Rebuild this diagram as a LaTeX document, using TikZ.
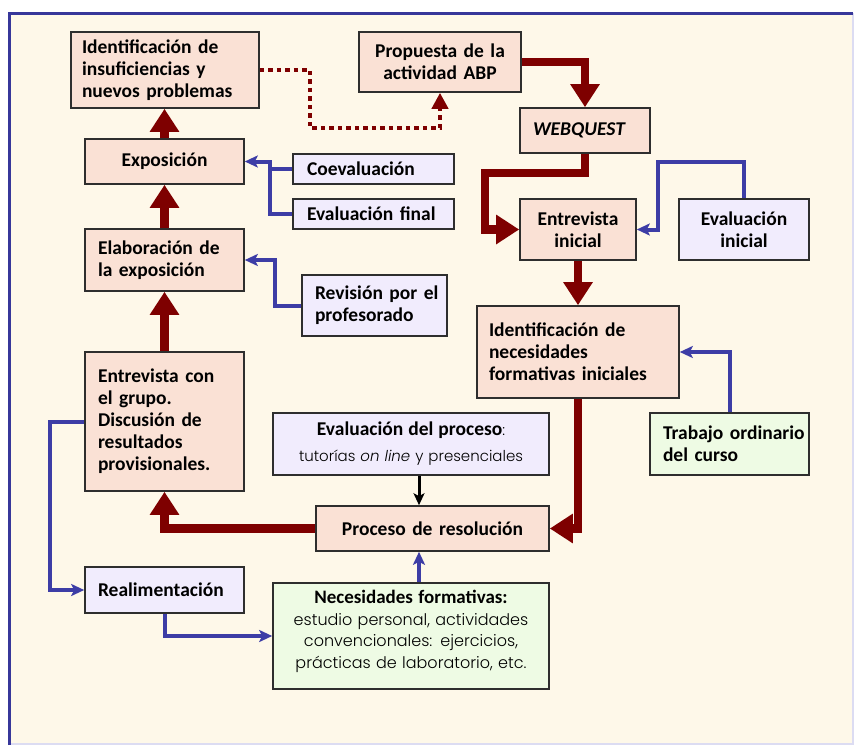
\documentclass[tikz,border=0pt]{standalone}
\usepackage{fontspec}
\setmainfont{Carlito}
\newfontfamily\lightfont{Poppins}[UprightFont=* Light, ItalicFont=* Light Italic]
\usetikzlibrary{arrows.meta}
\definecolor{bgc}{HTML}{FEF8E9}
\definecolor{pinkc}{HTML}{FAE1D5}
\definecolor{lavc}{HTML}{F1ECFD}
\definecolor{greenc}{HTML}{EEFBE4}
\definecolor{darkred}{HTML}{7E0000}
\definecolor{arrblue}{HTML}{3D3DA6}
\definecolor{frameblue}{HTML}{37379A}
\definecolor{framelight}{HTML}{DCDCF2}
\definecolor{boxline}{HTML}{2E2E2E}
\newcommand\mybf{\normalfont\bfseries\fontsize{19.5}{22}\selectfont}
\newcommand\Lb[1]{\mbox{#1}}
\begin{document}
\begin{tikzpicture}[x=1pt,y=-1pt,
  box/.style={draw=boxline, line width=1.6pt, inner sep=0pt, font=\mybf},
  pinkbox/.style={box, fill=pinkc},
  lavbox/.style={box, fill=lavc},
  greenbox/.style={box, fill=greenc},
  redarrow/.style={draw=darkred, line width=8.5pt, -{Triangle[length=23pt,width=28pt]}},
  dotarrow/.style={draw=darkred, line width=4.5pt, dash pattern=on 4.5pt off 4pt, -{Triangle[length=16pt,width=16pt]}},
  bluearrow/.style={draw=arrblue, line width=4pt, -{Stealth[length=13pt,width=12pt,inset=3pt]}},
  blueline/.style={draw=arrblue, line width=4pt},
  blackarrow/.style={draw=black, line width=3pt, -{Stealth[length=12pt,width=11pt,inset=3pt]}}
]
\useasboundingbox (0,0) rectangle (854,747);
\fill[white] (0,0) rectangle (854,747);
\fill[bgc] (9,13) rectangle (853,745);
\draw[framelight, line width=2pt] (9,744) -- (853,744) -- (853,13);
\draw[frameblue, line width=3pt] (9,745) -- (9,13) -- (853,13);

% nodes
\node[pinkbox, minimum width=188pt, minimum height=76pt, text width=166pt, align=left] (insuf) at (165,70) {\Lb{Identificación de}\\\Lb{insuficiencias y}\\\Lb{nuevos problemas}};
\node[pinkbox, minimum width=162pt, minimum height=60pt, text width=150pt, align=center] (prop) at (440,62) {Propuesta de la\\actividad ABP};
\node[pinkbox, minimum width=159pt, minimum height=45pt, text width=150pt, align=center] (expo) at (164.5,161.5) {Exposición};
\node[lavbox, minimum width=161pt, minimum height=30pt, text width=133pt, align=left] (coev) at (373.5,169) {Coevaluación};
\node[lavbox, minimum width=161pt, minimum height=30pt, text width=133pt, align=left] (evfin) at (373.5,214) {\Lb{Evaluación final}};
\node[pinkbox, minimum width=159pt, minimum height=62pt, text width=133pt, align=left] (elab) at (164.5,260) {\Lb{Elaboración de}\\\Lb{la exposición}};
\node[lavbox, minimum width=145pt, minimum height=61pt, text width=119pt, align=left] (revis) at (374.5,305.5) {\Lb{Revisión por el}\\profesorado};
\node[pinkbox, minimum width=130pt, minimum height=45pt, text width=104pt, align=left] (webq) at (585,130.5) {\itshape WEBQUEST};
\node[pinkbox, minimum width=116pt, minimum height=61pt, text width=110pt, align=center] (entini) at (578,229.5) {Entrevista\\inicial};
\node[lavbox, minimum width=130pt, minimum height=61pt, text width=124pt, align=center] (evini) at (744,229.5) {Evaluación\\inicial};
\node[pinkbox, minimum width=202pt, minimum height=92pt, text width=178pt, align=left] (idnec) at (578,352) {\Lb{Identificación de}\\necesidades\\\Lb{formativas iniciales}};
\node[greenbox, minimum width=159pt, minimum height=62pt, text width=133pt, align=left] (trab) at (729.5,444) {\Lb{Trabajo ordinario}\\\Lb{del curso}};
\node[pinkbox, minimum width=159pt, minimum height=139pt, text width=133pt, align=left] (entgr) at (164.5,421.5) {\Lb{Entrevista con}\\\Lb{el grupo.}\\\Lb{Discusión de}\\resultados\\provisionales.};
\node[lavbox, minimum width=276pt, minimum height=62pt, text width=270pt, align=center, font=\lightfont\fontsize{15}{26}\selectfont] (evproc) at (411,444) {{\mybf\fontsize{19.5}{26}\selectfont Evaluación del proceso}:\\tutorías \textit{on line} y presenciales};
\node[pinkbox, minimum width=233pt, minimum height=45pt, text width=225pt, align=center] (proc) at (432.5,528.5) {Proceso de resolución};
\node[lavbox, minimum width=159pt, minimum height=46pt, text width=133pt, align=left] (realim) at (164.5,590) {Realimentación};
\node[greenbox, minimum width=276pt, minimum height=106pt, text width=270pt, align=center, font=\lightfont\fontsize{16}{21.5}\selectfont] (necform) at (411,636) {{\mybf\fontsize{19}{21.5}\selectfont Necesidades formativas:}\\estudio personal, actividades\\convencionales: ejercicios,\\prácticas de laboratorio, etc.\\[-8pt]\mbox{}};

% helper coordinates
\coordinate (ax) at (419,0);
\coordinate (d1) at (310,128);
\coordinate (w1) at (485,173);
\coordinate (b1) at (270,214);
\coordinate (b2) at (275,0);
\coordinate (b3) at (658,162);
\coordinate (b4) at (50,0);

% red arrows
\draw[redarrow] (expo.north) -- (expo.north |- insuf.south);
\draw[redarrow] (elab.north) -- (elab.north |- expo.south);
\draw[redarrow] (entgr.north) -- (entgr.north |- elab.south);
\draw[redarrow] (proc.west) -| (entgr.south);
\draw[redarrow] (prop.east) -| (webq.north);
\draw[redarrow] (webq.south) |- (w1) |- (entini.west);
\draw[redarrow] (entini.south) -- (entini.south |- idnec.north);
\draw[redarrow] (idnec.south) |- (proc.east);
\draw[dotarrow] (insuf.east) -| (d1) -| (prop.south);

% blue arrows
\draw[blueline] (coev.west) -- (coev.west -| b1);
\draw[bluearrow] (evfin.west) -- (b1) |- (expo.east);
\draw[bluearrow] (revis.west) -| (b2 |- elab.east) -- (elab.east);
\draw[bluearrow] (evini.north) |- (b3) |- (entini.east);
\draw[bluearrow] (trab.north) |- (idnec.east);
\draw[bluearrow] (entgr.west) -| (b4 |- realim.west) -- (realim.west);
\draw[bluearrow] (realim.south) |- (necform.west);
\draw[bluearrow] (necform.north -| ax) -- (proc.south -| ax);
\draw[blackarrow] (evproc.south -| ax) -- (proc.north -| ax);
\end{tikzpicture}
\end{document}
